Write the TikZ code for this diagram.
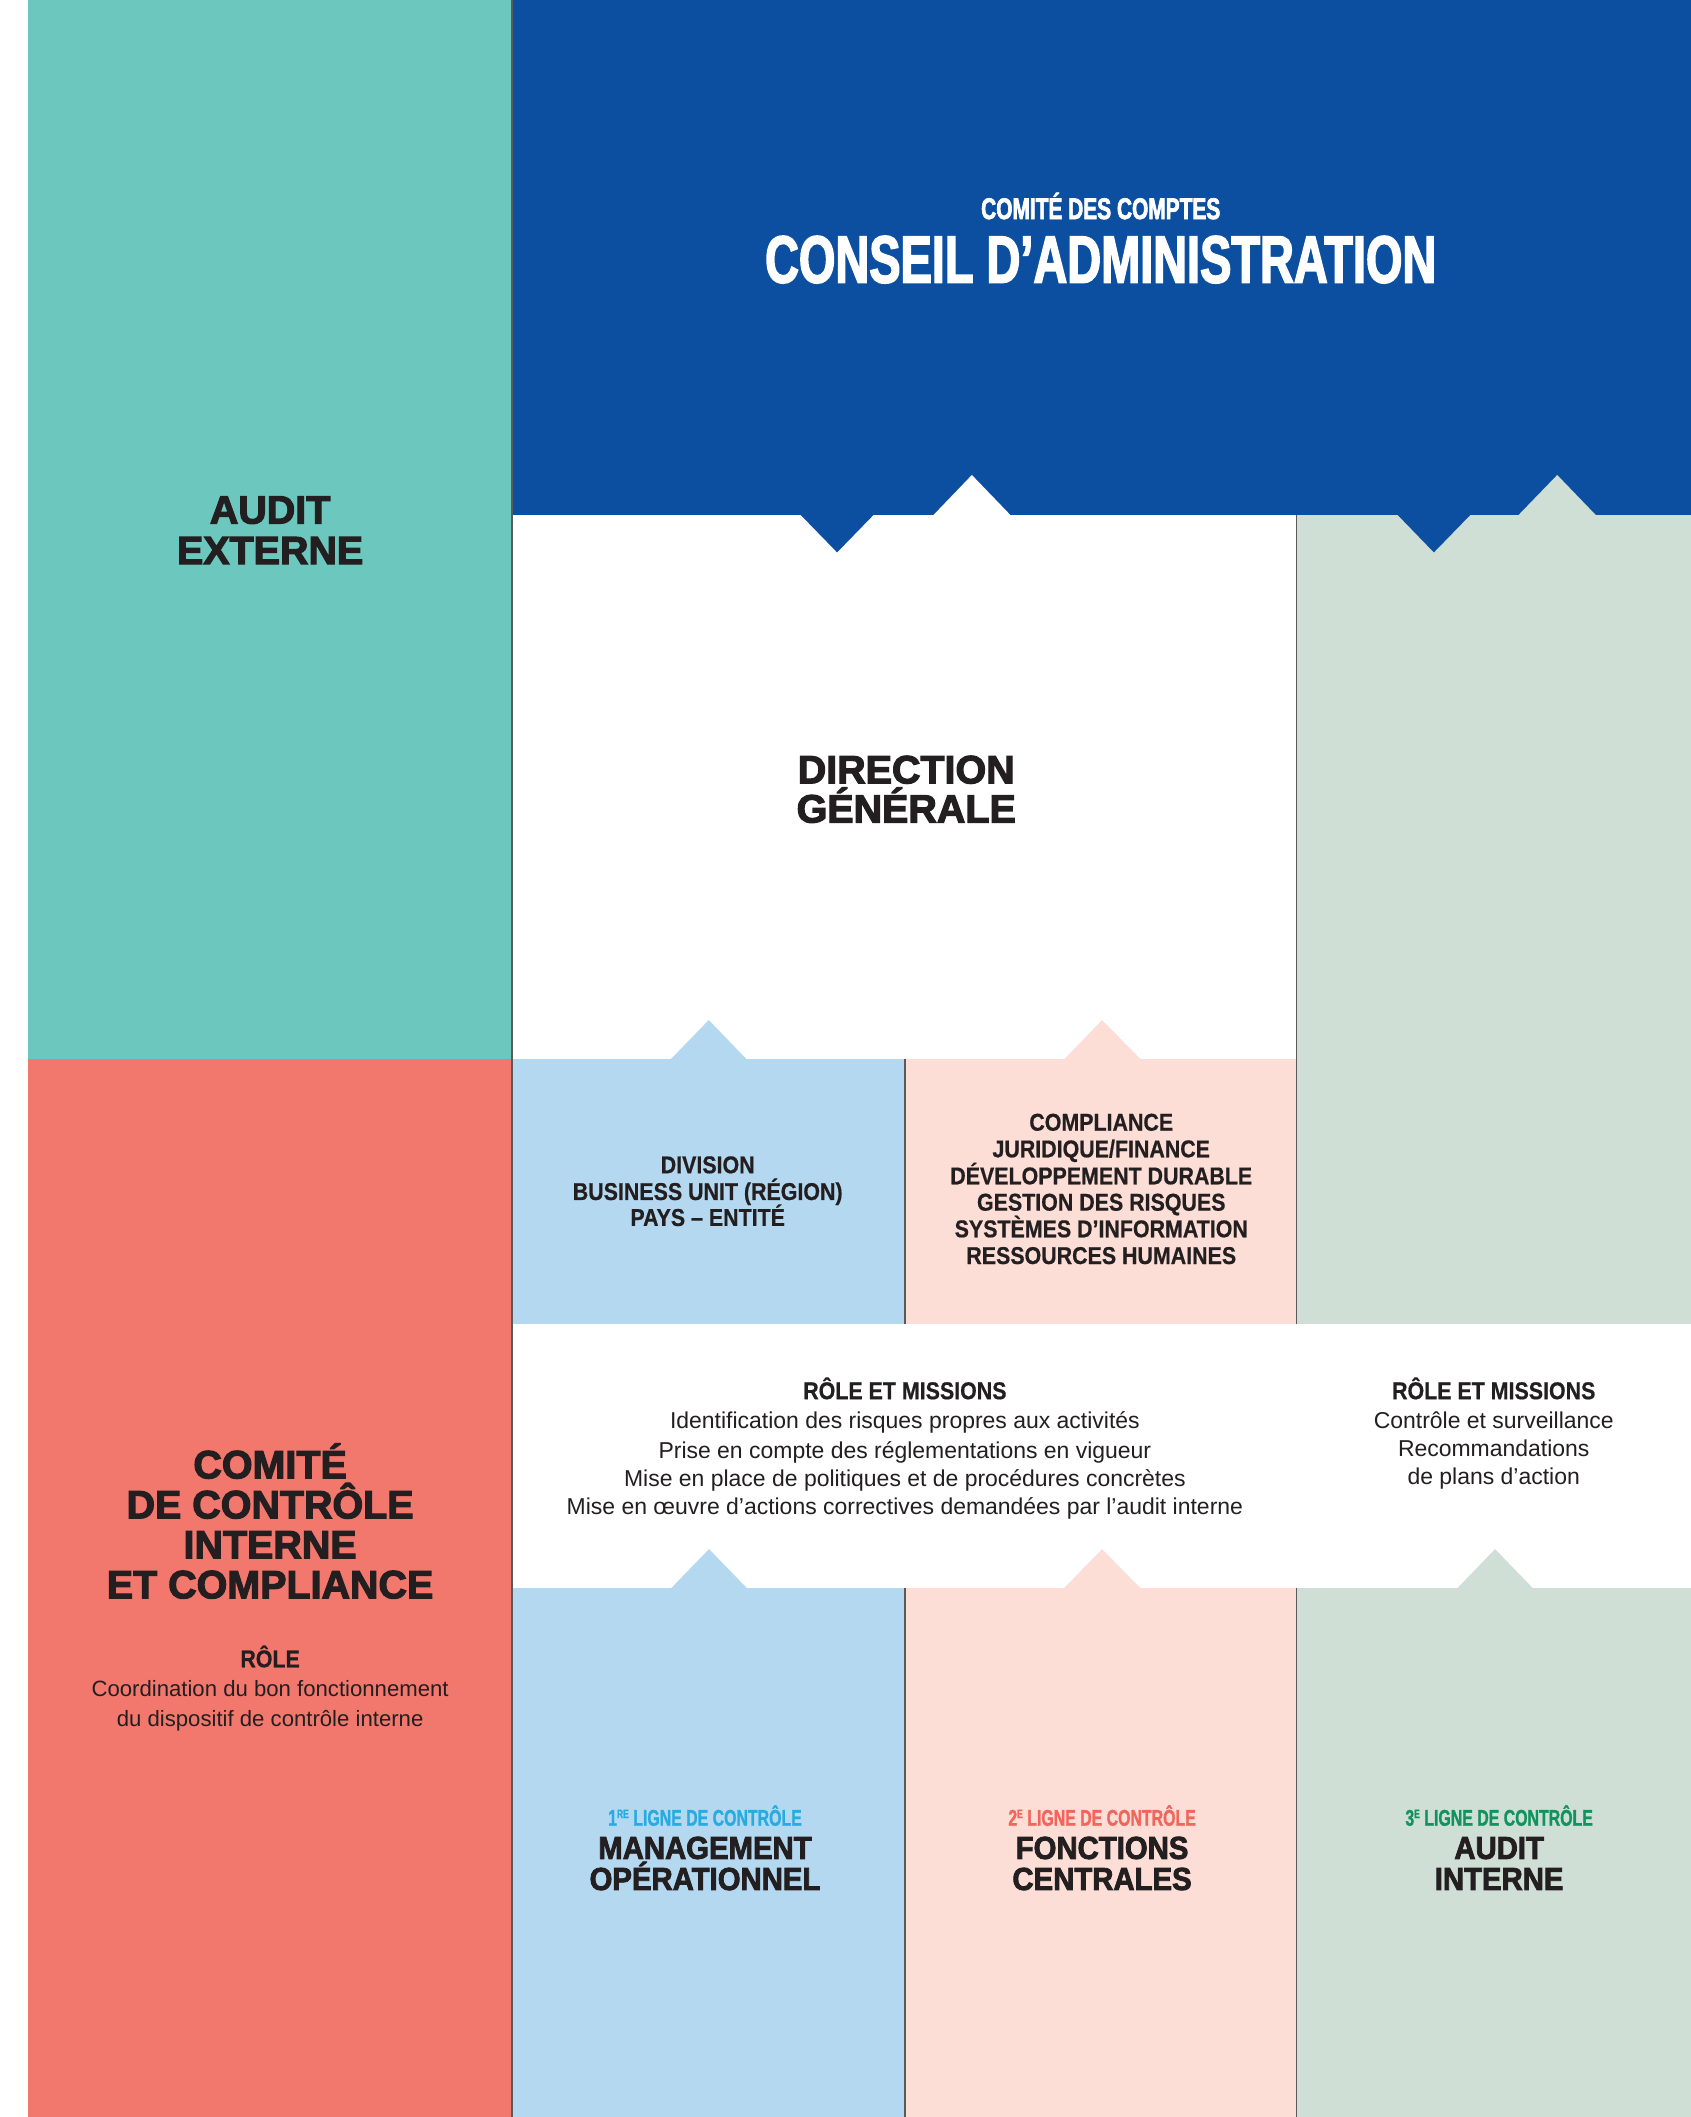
\documentclass[tikz,border=0pt]{standalone}
\usepackage{fontspec}
\setmainfont{Liberation Sans}
\newfontfamily\fCond[FakeStretch=0.7,FakeBold=1.2]{Liberation Sans}
\newfontfamily\fCondH[FakeStretch=0.7,FakeBold=2.2]{Liberation Sans}
\newfontfamily\fMed[FakeStretch=0.88,FakeBold=0.6]{Liberation Sans}
\newfontfamily\fHeavy[FakeBold=3]{Liberation Sans}
\newfontfamily\fMg[FakeStretch=0.92,FakeBold=2.5]{Liberation Sans}
\newfontfamily\fReg{Liberation Sans}
\definecolor{cTeal}{HTML}{6CC8BE}
\definecolor{cRed}{HTML}{F2776D}
\definecolor{cBlue}{HTML}{0C4FA1}
\definecolor{cLB}{HTML}{B3D8F0}
\definecolor{cPink}{HTML}{FDDED6}
\definecolor{cSage}{HTML}{CFDFD5}
\definecolor{cText}{HTML}{231F20}
\definecolor{cLine}{HTML}{5A5A5A}
\definecolor{cLa}{HTML}{29ABE2}
\definecolor{cLb}{HTML}{F0655C}
\definecolor{cLc}{HTML}{12925E}
\tikzset{
 tx/.style={inner sep=0pt, outer sep=0pt, anchor=base, text=cText},
 fCA/.style={tx, text=white, font=\fCondH\bfseries\fontsize{11.05pt}{11pt}\selectfont},
 fCB/.style={tx, text=white, font=\fCondH\bfseries\fontsize{24.8pt}{25pt}\selectfont},
 hv/.style={tx, font=\fHeavy\bfseries\fontsize{14.6pt}{15pt}\selectfont},
 md/.style={tx, font=\fMed\bfseries\fontsize{9pt}{10pt}\selectfont},
 rg/.style={tx, font=\fReg\fontsize{8.5pt}{10pt}\selectfont},
 rgb/.style={tx, font=\fReg\fontsize{8.2pt}{10pt}\selectfont},
 lg/.style={tx, font=\fCond\bfseries\fontsize{8.4pt}{9pt}\selectfont},
 mg/.style={tx, font=\fMg\bfseries\fontsize{11.8pt}{12pt}\selectfont},
 sep/.style={draw=cLine, line width=0.5pt},
}
\newcommand\supx[1]{\raisebox{2.8pt}{\fontsize{4.5pt}{4.5pt}\selectfont #1}}
\begin{document}
\begin{tikzpicture}[x=0.5pt,y=-0.5pt]
\useasboundingbox (0,0) rectangle (1252,1567.5);
\fill[white] (0,0) rectangle (1252,1567.5);
% blocks
\fill[cTeal] (21,0) rectangle (379,784);
\fill[cRed] (21,784) rectangle (379,1567.5);
\fill[cBlue] (379,0) rectangle (1252,381);
\fill[cSage] (960,381) rectangle (1252,980);
\fill[cLB] (379,784) rectangle (670,980);
\fill[cPink] (670,784) rectangle (960,980);
\fill[cLB] (379,1176) rectangle (670,1567.5);
\fill[cPink] (670,1176) rectangle (960,1567.5);
\fill[cSage] (960,1176) rectangle (1252,1567.5);
% notches
\fill[cBlue] (591.6,380) -- (648,380) -- (619.8,409) -- cycle;
\fill[white] (691,381.5) -- (748.3,381.5) -- (719.6,351.7) -- cycle;
\fill[cBlue] (1033.6,380) -- (1089.9,380) -- (1061.7,409) -- cycle;
\fill[cSage] (1124.2,381.5) -- (1181.7,381.5) -- (1153,351.7) -- cycle;
\fill[cLB] (496.4,784.5) -- (553,784.5) -- (524.8,755.3) -- cycle;
\fill[cPink] (787.8,784.5) -- (844.8,784.5) -- (816,755.3) -- cycle;
\fill[cLB] (496.4,1176.5) -- (553.6,1176.5) -- (525,1147) -- cycle;
\fill[cPink] (787.3,1176.5) -- (845,1176.5) -- (816,1147) -- cycle;
\fill[cSage] (1078.5,1176.5) -- (1135.5,1176.5) -- (1107,1147) -- cycle;
% separators
\draw[sep] (379,0) -- (379,1567.5);
\draw[sep] (670,784) -- (670,980);
\draw[sep] (670,1176) -- (670,1567.5);
\draw[sep] (960,381) -- (960,980);
\draw[sep] (960,1176) -- (960,1567.5);
% texts
\node[fCA] (cc) at (815,162.2) {COMITÉ DES COMPTES};
\node[fCB] (ca) at (815,209.3) {CONSEIL D’ADMINISTRATION};
\node[hv] (ae1) at (200,387.6) {AUDIT};
\node[hv] (ae2) at (200,417.7) {EXTERNE};
\node[hv] (dg1) at (671,580) {DIRECTION};
\node[hv] (dg2) at (671,609) {GÉNÉRALE};
\node[md] (dv1) at (524,868.7) {DIVISION};
\node[md] (dv2) at (524,888.5) {BUSINESS UNIT (RÉGION)};
\node[md] (dv3) at (524,907.7) {PAYS – ENTITÉ};
\node[md] (fc1) at (815.4,837.2) {COMPLIANCE};
\node[md] (fc2) at (815.4,856.9) {JURIDIQUE/FINANCE};
\node[md] (fc3) at (815.4,876.9) {DÉVELOPPEMENT DURABLE};
\node[md] (fc4) at (815.4,896.4) {GESTION DES RISQUES};
\node[md] (fc5) at (815.4,916.1) {SYSTÈMES D’INFORMATION};
\node[md] (fc6) at (815.4,935.9) {RESSOURCES HUMAINES};
\node[md] (rm1) at (670,1036) {RÔLE ET MISSIONS};
\node[rg] (rm2) at (670,1057.5) {Identification des risques propres aux activités};
\node[rg] (rm3) at (670,1079.8) {Prise en compte des réglementations en vigueur};
\node[rg] (rm4) at (670,1100.7) {Mise en place de politiques et de procédures concrètes};
\node[rg] (rm5) at (670,1121.7) {Mise en œuvre d’actions correctives demandées par l’audit interne};
\node[md] (rr1) at (1106,1036) {RÔLE ET MISSIONS};
\node[rg] (rr2) at (1106,1057.5) {Contrôle et surveillance};
\node[rg] (rr3) at (1106,1078.5) {Recommandations};
\node[rg] (rr4) at (1106,1099.5) {de plans d’action};
\node[hv] (ci1) at (200,1094.6) {COMITÉ};
\node[hv] (ci2) at (200,1124.2) {DE CONTRÔLE};
\node[hv] (ci3) at (200,1153.8) {INTERNE};
\node[hv] (ci4) at (200,1183.4) {ET COMPLIANCE};
\node[md] (cr1) at (200,1234.5) {RÔLE};
\node[rgb] (cr2) at (200,1256.2) {Coordination du bon fonctionnement};
\node[rgb] (cr3) at (200,1278) {du dispositif de contrôle interne};
\node[lg, text=cLa] (l1) at (522,1351.8) {1\supx{RE} LIGNE DE CONTRÔLE};
\node[mg] (m1) at (522,1376.4) {MANAGEMENT};
\node[mg] (m2) at (522,1399.4) {OPÉRATIONNEL};
\node[lg, text=cLb] (l2) at (816,1351.8) {2\supx{E} LIGNE DE CONTRÔLE};
\node[mg] (f1) at (816,1376.4) {FONCTIONS};
\node[mg] (f2) at (816,1399.4) {CENTRALES};
\node[lg, text=cLc] (l3) at (1110,1351.8) {3\supx{E} LIGNE DE CONTRÔLE};
\node[mg] (a1) at (1110,1376.4) {AUDIT};
\node[mg] (a2) at (1110,1399.4) {INTERNE};
\end{tikzpicture}
\end{document}
